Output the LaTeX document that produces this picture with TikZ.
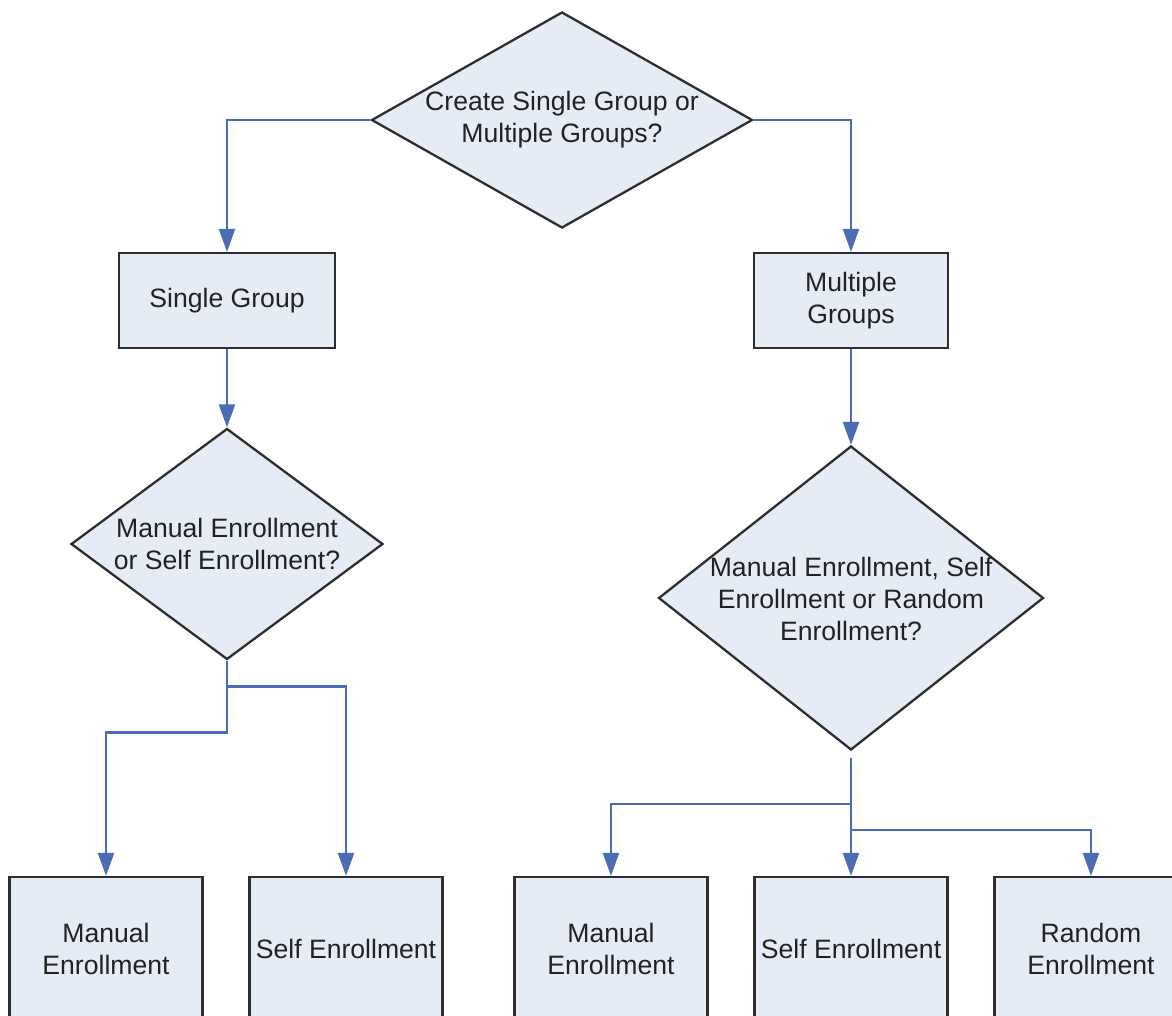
\documentclass[tikz,border=0pt]{standalone}
\usepackage{fontspec}
\setmainfont{Liberation Sans}
\usetikzlibrary{shapes.geometric,arrows.meta,calc}
\definecolor{boxfill}{HTML}{E6ECF6}
\definecolor{boxline}{HTML}{2E2E2E}
\definecolor{linkblue}{HTML}{4A6DB5}
\definecolor{txt}{HTML}{222222}
\tikzset{
  base/.style={draw=boxline, line width=2.3pt, fill=boxfill, inner sep=0pt},
  procbox/.style={base, rectangle, minimum width=#1, minimum height=95pt},
  lowbox/.style={base, rectangle, minimum width=193pt, minimum height=143pt},
  decision/.style={base, diamond},
  lbl/.style={font=\fontsize{26.6}{32}\selectfont, text=txt, align=center, inner sep=0pt},
  link/.style={draw=linkblue, line width=2.4pt, line join=miter, -{Triangle[width=16pt,length=23pt]}}
}
\begin{document}
\begin{tikzpicture}[x=1pt,y=-1pt]
\useasboundingbox (0,0) rectangle (1172,1015);
\clip (0,0) rectangle (1172,1015);
\fill[white] (0,0) rectangle (1172,1015);

% decisions
\node[decision, minimum width=381pt, minimum height=216pt] (d1) at (562,120) {};
\node[decision, minimum width=312pt, minimum height=231pt] (d2) at (227,544) {};
\node[decision, minimum width=385pt, minimum height=304pt] (d3) at (851,598) {};

% process boxes
\node[procbox=216pt] (sg) at (227,300.5) {};
\node[procbox=194pt] (mg) at (851,300.5) {};

% bottom boxes
\node[lowbox] (b1) at (106,948.5) {};
\node[lowbox] (b2) at (346,948.5) {};
\node[lowbox] (b3) at (611,948.5) {};
\node[lowbox] (b4) at (851,948.5) {};
\node[lowbox] (b5) at (1091,948.5) {};

% labels
\node[lbl] (t1) at (d1.center) {Create Single Group or\\Multiple Groups?};
\node[lbl] (t2) at (d2.center) {Manual Enrollment\\or Self Enrollment?};
\node[lbl] (t3) at ($(d3.center)+(0,1)$) {Manual Enrollment, Self\\Enrollment or Random\\Enrollment?};
\node[lbl] (tsg) at (sg.center) {Single Group};
\node[lbl] (tmg) at (mg.center) {Multiple\\Groups};
\node[lbl] (tb1) at (b1.center) {Manual\\Enrollment};
\node[lbl] (tb2) at (b2.center) {Self Enrollment};
\node[lbl] (tb3) at (b3.center) {Manual\\Enrollment};
\node[lbl] (tb4) at (b4.center) {Self Enrollment};
\node[lbl] (tb5) at (b5.center) {Random\\Enrollment};

% connectors
\draw[link] (d1.west) -| (sg.north);
\draw[link] (d1.east) -| (mg.north);
\draw[link] (sg.south) -- (d2.north);
\draw[link] (mg.south) -- (d3.north);

\coordinate (j1) at ($(d2.south)+(0,26)$);
\coordinate (j2) at ($(d2.south)+(0,72)$);
\draw[link] (d2.south) -- (j2) -| (b1.north);
\draw[link] (j1) -| (b2.north);

\coordinate (k0) at ($(d3.south)+(0,7)$);
\coordinate (k1) at ($(d3.south)+(0,53)$);
\coordinate (k2) at ($(d3.south)+(0,79)$);
\draw[link] (k0) -- (b4.north);
\draw[link] (k1) -| (b3.north);
\draw[link] (k2) -| (b5.north);
\end{tikzpicture}
\end{document}
